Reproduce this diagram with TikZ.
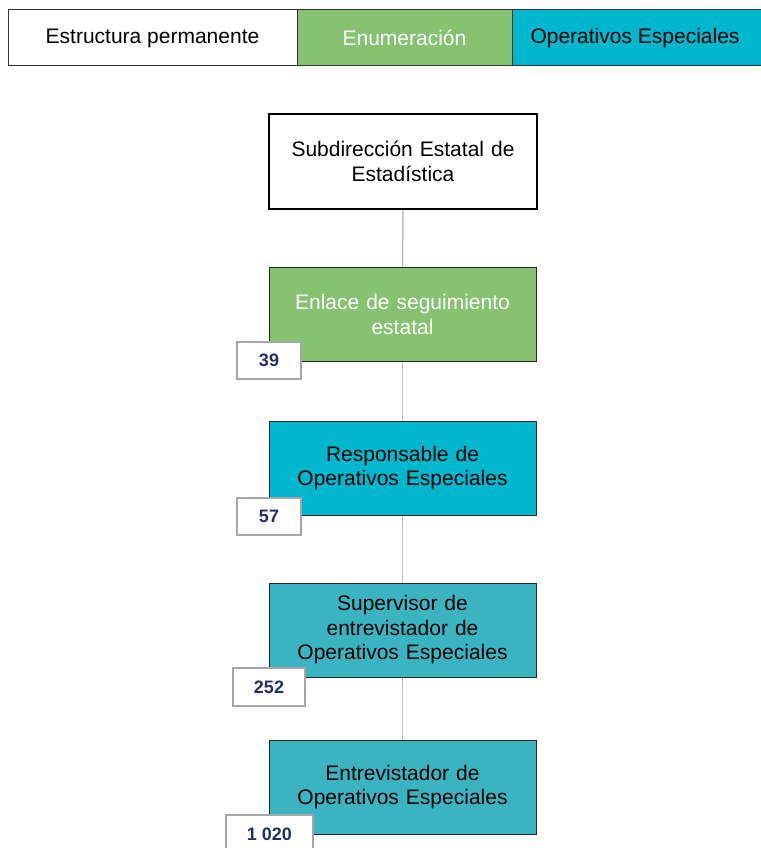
\documentclass[tikz,border=0pt]{standalone}
\usepackage{fontspec}
\setmainfont{Liberation Sans}
\definecolor{legwhite}{RGB}{255,255,255}
\definecolor{enumgreen}{RGB}{134,194,112}
\definecolor{opcyan}{RGB}{0,183,205}
\definecolor{opteal}{RGB}{59,180,194}
\definecolor{numnavy}{RGB}{31,50,107}
\definecolor{numgray}{RGB}{166,166,166}
\definecolor{linkgray}{RGB}{191,191,191}
\begin{document}
\begin{tikzpicture}[x=1pt,y=-1pt,
  legbox/.style={draw=black!80,line width=1pt,minimum height=56pt,inner sep=0pt,font=\fontsize{21}{25}\selectfont},
  orgbox/.style={draw=black!85,line width=1pt,minimum width=267pt,minimum height=94pt,inner sep=0pt,align=center,text width=250pt,font=\fontsize{21}{24.5}\selectfont},
  numbox/.style={draw=numgray,line width=1.5pt,fill=white,minimum height=37pt,inner sep=0pt,text=numnavy,font=\fontsize{18}{20}\selectfont\bfseries},
  link/.style={draw=linkgray,line width=1.5pt}]
\useasboundingbox (0,0) rectangle (760,848);
% legend
\node[legbox,fill=legwhite,minimum width=289pt] (l1) at (152.5,38) {Estructura permanente};
\node[legbox,fill=enumgreen,minimum width=215pt,text=white] (l2) at (404.5,38) {Enumeración};
\node[legbox,fill=opcyan,minimum width=250pt] (l3) at (637,38) {\hspace*{-2pt}Operativos Especiales\hspace*{2pt}};
% org chart
\node[orgbox,fill=white,line width=2.5pt,draw=black,minimum width=268pt,minimum height=95pt] (sub) at (403,161.5) {Subdirección Estatal de\\Estadística};
\node[orgbox,fill=enumgreen,text=white] (enl) at (402.5,314.5) {Enlace de seguimiento\\estatal};
\node[orgbox,fill=opcyan] (resp) at (402.5,468) {Responsable de\\Operativos Especiales};
\node[orgbox,fill=opteal] (sup) at (402.5,630) {Supervisor de\\entrevistador de\\Operativos Especiales};
\node[orgbox,fill=opteal] (ent) at (402.5,787) {Entrevistador de\\Operativos Especiales};
% connectors
\draw[link] (sub.south) -- (enl.north);
\draw[link] (enl.south) -- (resp.north);
\draw[link] (resp.south) -- (sup.north);
\draw[link] (sup.south) -- (ent.north);
% number boxes
\node[numbox,minimum width=64pt] (n1) at (269,360.5) {39};
\node[numbox,minimum width=64pt] (n2) at (269,516.5) {57};
\node[numbox,minimum width=72pt,minimum height=38pt] (n3) at (269,687) {252};
\node[numbox,minimum width=87pt,minimum height=38pt] (n4) at (269.5,834) {1 020};
\end{tikzpicture}
\end{document}
